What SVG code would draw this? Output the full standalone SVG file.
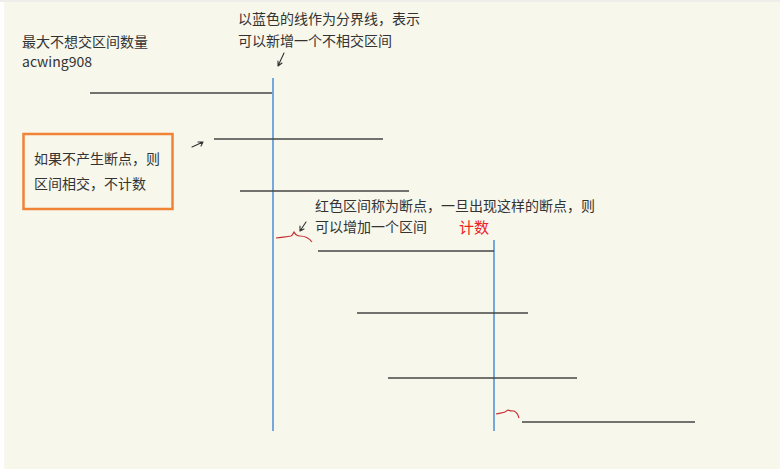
<svg xmlns="http://www.w3.org/2000/svg" width="780" height="471" viewBox="0 0 780 471">
<style>
.t{font-family:"Noto Sans CJK SC","Liberation Sans",sans-serif;font-size:14px;fill:#333}
.seg{stroke:#444;stroke-width:1.6;fill:none}
.div{stroke:#4a8fd8;stroke-width:1.5;fill:none}
.red{stroke:#c43030;stroke-width:1.2;fill:none}
.pen{stroke:#333;stroke-width:1.1;fill:none;stroke-linecap:round}
</style>
<rect x="0" y="0" width="780" height="471" fill="#ffffff"/>
<rect x="4" y="2" width="776" height="467" fill="#f7f7ec"/>
<line x1="0" y1="1" x2="780" y2="1" stroke="#dcdcd6" stroke-width="1"/>
<g id="connectors">
<line class="div" x1="273" y1="78" x2="273" y2="431"/>
<line class="div" x1="494" y1="240" x2="494" y2="431"/>
<line class="seg" x1="90" y1="93" x2="272" y2="93"/>
<line class="seg" x1="214" y1="139" x2="383" y2="139"/>
<line class="seg" x1="240" y1="191" x2="409" y2="191"/>
<line class="seg" x1="318" y1="251" x2="494" y2="251"/>
<line class="seg" x1="357" y1="313" x2="528" y2="313"/>
<line class="seg" x1="388" y1="378" x2="577" y2="378"/>
<line class="seg" x1="522" y1="422" x2="695" y2="422"/>
<path class="pen" d="M284 53 L278 66 M278 66 L278 61 M278 66 L282 63"/>
<path class="pen" d="M192 147 L203 142 M203 142 L198 142 M203 142 L201 146"/>
<path class="pen" d="M306 222 L300 231 M300 231 L300 226 M300 231 L304 229"/>
<path class="red" d="M276 238 C282 237 287 237 291 236 C293 235 293 233 294 232 C295 234 296 236 300 236 C305 236 309 238 312 242"/>
<path class="red" d="M496 414 C500 413 503 413 505 412 C507 411 507 410 508 410 C510 411 512 411 514 411 C516 412 518 414 519 418"/>
</g>
<g id="title">
<text class="t" x="22" y="47">最大不想交区间数量</text>
<text class="t" x="22" y="67">acwing908</text>
</g>
<g id="note-divider">
<text class="t" x="238" y="24">以蓝色的线作为分界线，表示</text>
<text class="t" x="238" y="46">可以新增一个不相交区间</text>
</g>
<g id="note-box">
<rect x="23.5" y="134" width="149" height="75" fill="none" stroke="#f08336" stroke-width="2.5"/>
<text class="t" x="34" y="164">如果不产生断点，则</text>
<text class="t" x="34" y="189">区间相交，不计数</text>
</g>
<g id="note-break">
<text class="t" x="315" y="211">红色区间称为断点，一旦出现这样的断点，则</text>
<text class="t" x="315" y="232">可以增加一个区间</text>
<text class="t" x="459" y="233" style="fill:#ee2222;font-size:15px">计数</text>
</g>
</svg>
